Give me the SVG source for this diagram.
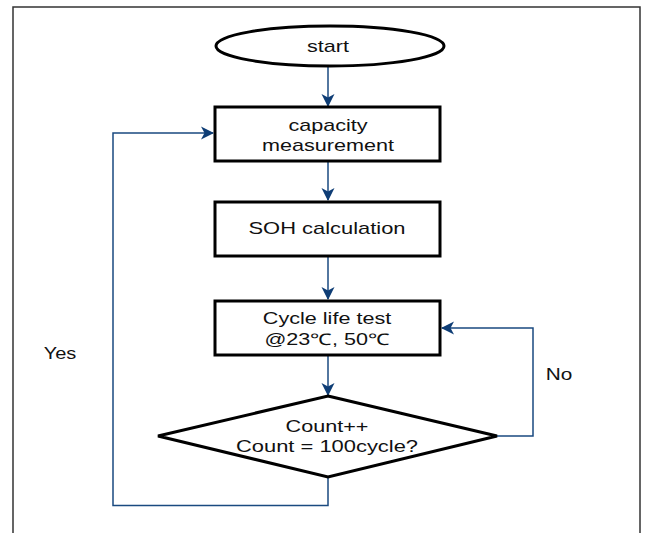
<svg xmlns="http://www.w3.org/2000/svg" width="647" height="533" viewBox="0 0 647 533">
<style>
.shape{fill:#fff;stroke:#000;stroke-width:3}
.conn{fill:none;stroke:#1a4a80;stroke-width:1.5}
.t{font-family:"Liberation Sans",Arial,sans-serif;font-size:16px;fill:#111;text-anchor:middle}
</style>
<defs>
<marker id="arr" markerWidth="14" markerHeight="14" refX="12" refY="7" orient="auto" markerUnits="userSpaceOnUse">
<path d="M0,0.5 L13,7 L0,13.5 L3.5,7 z" fill="#0e3d75"/>
</marker>
</defs>
<rect width="647" height="533" fill="#fff"/>
<rect x="13" y="7" width="627" height="540" fill="none" stroke="#333" stroke-width="1.5"/>
<g id="connectors">
<line class="conn" x1="328" y1="66" x2="328" y2="106" marker-end="url(#arr)"/>
<line class="conn" x1="328" y1="161" x2="328" y2="200" marker-end="url(#arr)"/>
<line class="conn" x1="328" y1="256" x2="328" y2="299" marker-end="url(#arr)"/>
<line class="conn" x1="328" y1="355" x2="328" y2="395" marker-end="url(#arr)"/>
<polyline class="conn" points="497,436 533,436 533,328 442,328" marker-end="url(#arr)"/>
<polyline class="conn" points="328,477 328,505.5 113,505.5 113,133 213,133" marker-end="url(#arr)"/>
<text class="t" transform="translate(60 359) scale(1.25 1)">Yes</text>
<text class="t" transform="translate(559 380) scale(1.3 1)">No</text>
</g>
<g id="start">
<ellipse class="shape" cx="330" cy="46" rx="114" ry="20"/>
<text class="t" transform="translate(328 52) scale(1.35 1)">start</text>
</g>
<g id="capacity">
<rect class="shape" x="215" y="107" width="225" height="54"/>
<text class="t" transform="translate(328 131) scale(1.35 1)">capacity</text>
<text class="t" transform="translate(328 151) scale(1.35 1)">measurement</text>
</g>
<g id="soh">
<rect class="shape" x="215" y="202" width="225" height="54"/>
<text class="t" transform="translate(327 234) scale(1.37 1)">SOH calculation</text>
</g>
<g id="cycle">
<rect class="shape" x="215" y="301" width="225" height="54"/>
<text class="t" transform="translate(327 324) scale(1.35 1)">Cycle life test</text>
<text class="t" transform="translate(327 345) scale(1.35 1)">@23℃, 50℃</text>
</g>
<g id="decision">
<polygon class="shape" points="328,396 497,436 328,477 158,436"/>
<text class="t" transform="translate(327 432) scale(1.35 1)">Count++</text>
<text class="t" transform="translate(327 452) scale(1.37 1)">Count = 100cycle?</text>
</g>
</svg>
